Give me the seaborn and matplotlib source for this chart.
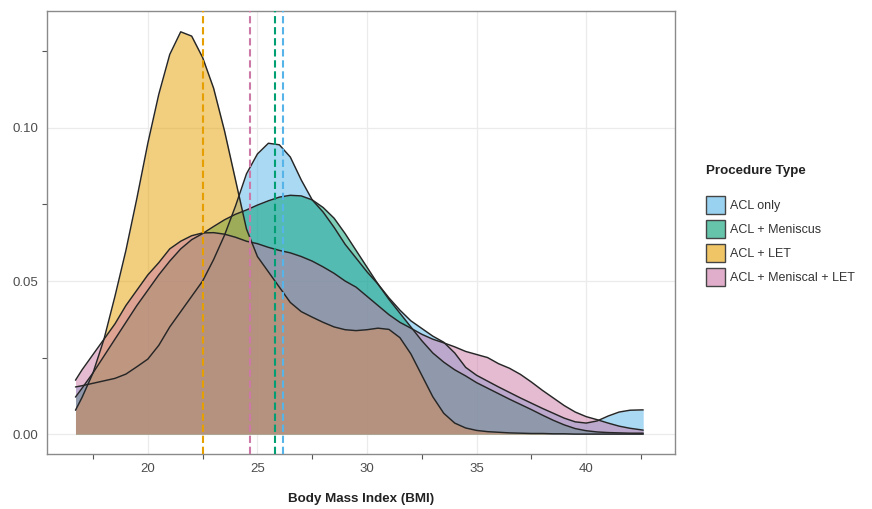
import matplotlib
matplotlib.use("Agg")
import matplotlib.pyplot as plt
from matplotlib.patches import Patch
from matplotlib.ticker import FixedLocator
import seaborn as sns
import pandas as pd

# ---------------- data ----------------
bmi = [16.7, 17.0, 17.5, 18.0, 18.5, 19.0, 19.5, 20.0, 20.5, 21.0, 21.5, 22.0,
       22.5, 23.0, 23.5, 24.0, 24.5, 25.0, 25.5, 26.0, 26.5, 27.0, 27.5, 28.0,
       28.5, 29.0, 29.5, 30.0, 30.5, 31.0, 31.5, 32.0, 32.5, 33.0, 33.5, 34.0,
       34.5, 35.0, 35.5, 36.0, 36.5, 37.0, 37.5, 38.0, 38.5, 39.0, 39.5, 40.0,
       40.5, 41.0, 41.5, 42.0, 42.5, 42.6]

dens_acl_only = [0.0154, 0.0158, 0.0166, 0.0174, 0.0182, 0.0196, 0.0220, 0.0245,
                 0.0290, 0.0350, 0.0400, 0.0450, 0.0500, 0.0570, 0.0650, 0.0745,
                 0.0850, 0.0915, 0.0950, 0.0945, 0.0905, 0.0830, 0.0765, 0.0725,
                 0.0675, 0.0620, 0.0575, 0.0530, 0.0490, 0.0445, 0.0405, 0.0370,
                 0.0345, 0.0320, 0.0300, 0.0265, 0.0218, 0.0192, 0.0173, 0.0154,
                 0.0136, 0.0118, 0.0101, 0.0084, 0.0068, 0.0052, 0.0040, 0.0036,
                 0.0043, 0.0059, 0.0072, 0.0078, 0.0079, 0.0079]

dens_acl_meniscus = [0.0121, 0.0150, 0.0200, 0.0255, 0.0310, 0.0365, 0.0420, 0.0470,
                     0.0520, 0.0565, 0.0605, 0.0635, 0.0655, 0.0678, 0.0700, 0.0718,
                     0.0732, 0.0748, 0.0762, 0.0774, 0.0780, 0.0778, 0.0765, 0.0740,
                     0.0705, 0.0655, 0.0600, 0.0545, 0.0490, 0.0440, 0.0395, 0.0350,
                     0.0305, 0.0265, 0.0235, 0.0210, 0.0190, 0.0168, 0.0150, 0.0132,
                     0.0114, 0.0097, 0.0080, 0.0062, 0.0045, 0.0030, 0.0018, 0.0011,
                     0.0007, 0.0005, 0.0004, 0.0003, 0.0003, 0.0003]

dens_acl_let = [0.0078, 0.0120, 0.0200, 0.0310, 0.0450, 0.0600, 0.0770, 0.0950,
                0.1110, 0.1240, 0.1314, 0.1300, 0.1230, 0.1130, 0.0990, 0.0830,
                0.0670, 0.0580, 0.0530, 0.0480, 0.0430, 0.0400, 0.0382, 0.0365,
                0.0350, 0.0341, 0.0338, 0.0341, 0.0346, 0.0342, 0.0315, 0.0262,
                0.0192, 0.0122, 0.0068, 0.0036, 0.0020, 0.0012, 0.0008, 0.0006,
                0.0004, 0.0003, 0.0002, 0.0002, 0.0001, 0.0001, 0.0000, 0.0000,
                0.0000, 0.0000, 0.0000, 0.0000, 0.0000, 0.0000]

dens_acl_meniscal_let = [0.0176, 0.0210, 0.0260, 0.0310, 0.0360, 0.0420, 0.0470, 0.0520,
                         0.0560, 0.0605, 0.0630, 0.0648, 0.0657, 0.0658, 0.0653, 0.0643,
                         0.0630, 0.0622, 0.0610, 0.0600, 0.0592, 0.0580, 0.0565, 0.0546,
                         0.0525, 0.0500, 0.0480, 0.0450, 0.0420, 0.0390, 0.0365, 0.0346,
                         0.0326, 0.0310, 0.0298, 0.0285, 0.0270, 0.0260, 0.0250, 0.0230,
                         0.0215, 0.0195, 0.0170, 0.0143, 0.0118, 0.0093, 0.0072, 0.0057,
                         0.0047, 0.0036, 0.0026, 0.0019, 0.0014, 0.0013]

groups = ["ACL only", "ACL + Meniscus", "ACL + LET", "ACL + Meniscal + LET"]
group_means = [26.15, 25.79, 22.51, 24.65]
palette = ["#56B4E9", "#009E73", "#E69F00", "#CC79A7"]

x_major = [20, 25, 30, 35, 40]
x_minor = [17.5, 22.5, 27.5, 32.5, 37.5, 42.5]
y_major = [0.00, 0.05, 0.10]
y_major_labels = ["0.00", "0.05", "0.10"]
y_minor = [0.025, 0.075, 0.125]

densities = [dens_acl_only, dens_acl_meniscus, dens_acl_let, dens_acl_meniscal_let]
df = pd.concat(
    [pd.DataFrame({"bmi": bmi, "density": d, "group": g}) for g, d in zip(groups, densities)],
    ignore_index=True,
)

# ---------------- style ----------------
sns.set_theme(style="white")
plt.rcParams["font.family"] = ["Liberation Sans", "DejaVu Sans"]

W, H = 872, 509
fig = plt.figure(figsize=(W / 100, H / 100), dpi=100)
ax = fig.add_axes([47 / W, 1 - 454 / H, (675 - 47) / W, (454 - 11) / H])

fill_alpha = 0.5
for g, col in zip(groups, palette):
    sub = df[df["group"] == g]
    ax.fill_between(sub["bmi"], 0, sub["density"], color=col, alpha=fill_alpha,
                    linewidth=0, zorder=2)
    sns.lineplot(data=sub, x="bmi", y="density", color="#262626", linewidth=1.05,
                 ax=ax, zorder=3, legend=False)

for m, col in zip(group_means, palette):
    ax.axvline(m, color=col, linestyle=(0, (3.5, 1.8)), linewidth=1.5, zorder=4)

ax.set_xlim(15.40, 44.05)
ax.set_ylim(-0.0065, 0.1382)

ax.xaxis.set_major_locator(FixedLocator(x_major))
ax.xaxis.set_minor_locator(FixedLocator(x_minor))
ax.yaxis.set_major_locator(FixedLocator(y_major))
ax.yaxis.set_minor_locator(FixedLocator(y_minor))
ax.set_xticklabels([str(v) for v in x_major])
ax.set_yticklabels(y_major_labels)

ax.tick_params(axis="both", which="major", length=0, labelsize=9.5,
               labelcolor="#4d4d4d", pad=6.5)
ax.tick_params(axis="both", which="minor", length=3.5, width=0.8, color="#555555")
ax.tick_params(axis="x", which="both", bottom=True)
ax.tick_params(axis="y", which="both", left=True)

ax.grid(True, which="major", color="#EBEBEB", linewidth=0.9, zorder=0)
ax.set_axisbelow(True)
for s in ax.spines.values():
    s.set_visible(True)
    s.set_color("#8a8a8a")
    s.set_linewidth(1.0)

ax.set_xlabel("Body Mass Index (BMI)", fontsize=9.6, fontweight="bold",
              color="#222222", labelpad=13)
ax.set_ylabel("")

# legend
fig.text(706 / W, 1 - 171 / H, "Procedure Type", fontsize=9.6, fontweight="bold",
         color="#222222", ha="left", va="center")
handles = [Patch(facecolor=matplotlib.colors.to_rgba(c, 0.6), edgecolor="#444444",
                 linewidth=1.0) for c in palette]
leg = fig.legend(handles, groups, loc="upper left",
                 bbox_to_anchor=(706 / W, 1 - 196 / H), frameon=False,
                 fontsize=9, handlelength=1.52, handleheight=1.845,
                 handletextpad=0.42, labelspacing=0.48, borderpad=0.0,
                 borderaxespad=0.0)
for t in leg.get_texts():
    t.set_color("#333333")

fig.savefig("out.png", dpi=100)
